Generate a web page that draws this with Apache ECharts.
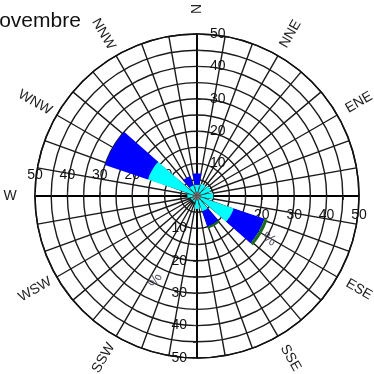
<!DOCTYPE html>
<html><head><meta charset="utf-8">
<script src="https://cdn.jsdelivr.net/npm/echarts@6/dist/echarts.min.js"></script>
<style>html,body{margin:0;padding:0;background:#fff}#c{width:374px;height:374px}</style>
</head><body><div id="c"></div>
<script>
// Directions (12 sectors, 30° apart, clockwise from north)
const directions = ['N','NNE','ENE','E','ESE','SSE','S','SSW','WSW','W','WNW','NNW'];
const bearings   = [0,30,60,90,120,150,180,210,240,270,300,330];
// Stacked frequency classes (%) per direction, inner to outer
const greyVals  = [1.3,1.3,1.3,1.3,1.3,1.3,1.3,1.5,1.5,1.3,1.3,1.3];
const cyanVals  = [2.2,2.7,3.2,3.7,10.7,3.7,2.7,0.5,0.5,1.7,14.7,2.2];
const blueVals  = [3.5,0,0,0,10.0,5.0,0,0,0,0,14.0,3.0];
const greenVals = [0,0,0,0,1.0,0.7,0,0,0,0,0,0];
const radiusMax = 50;
const ringStep = 5;
const labelStep = 10;

const chart = echarts.init(document.getElementById('c'));
const C = [197,196], R = 162;
const font = 'Liberation Sans, Arial, sans-serif';

const polars = [0,1,2,3,4,5].map(()=>({center:C,radius:R}));
const angleAxes = [], radiusAxes = [];
// 0: grid
angleAxes.push({polarIndex:0,type:'value',min:0,max:360,interval:10,startAngle:90,clockwise:true,z:1,
  axisLine:{show:true,lineStyle:{color:'#111',width:1.5}},axisTick:{show:false},axisLabel:{show:false},
  splitLine:{show:true,lineStyle:{color:'#1a1a1a',width:1.4}}});
radiusAxes.push({polarIndex:0,type:'value',min:0,max:radiusMax,interval:ringStep,z:1,
  axisLine:{show:false},axisTick:{show:false},axisLabel:{show:false},
  splitLine:{show:true,lineStyle:{color:'#1a1a1a',width:1.4}}});
// 1..4: cross axes with labels (N, E, S, W)
const axisLabelLayout = [
  {sa:90,  align:'left',   va:'middle', margin:-13},
  {sa:0,   align:'center', va:'top',    margin:-12},
  {sa:270, align:'right',  va:'middle', margin:-10},
  {sa:180, align:'center', va:'bottom', margin:-14}
];
axisLabelLayout.forEach((L,i)=>{
  angleAxes.push({polarIndex:i+1,type:'value',min:0,max:360,startAngle:L.sa,clockwise:true,show:true,z:1,
    axisLine:{show:false},axisTick:{show:false},axisLabel:{show:false},splitLine:{show:false}});
  radiusAxes.push({polarIndex:i+1,type:'value',min:0,max:radiusMax,interval:ringStep,z:1,
    axisLine:{show:true,lineStyle:{color:'#000',width:1.8}},
    axisTick:{show:true,length:-4,lineStyle:{color:'#333',width:1}},
    axisLabel:{show:true,fontFamily:font,fontSize:14,color:'#111',margin:L.margin,
      align:L.align,verticalAlign:L.va,
      formatter:v=>(v>0 && v%labelStep===0)?String(v):''},
    splitLine:{show:false}});
});
// 5: bars
angleAxes.push({polarIndex:5,type:'category',data:directions,startAngle:105,clockwise:true,
  axisLine:{show:false},axisTick:{show:false},axisLabel:{show:false},splitLine:{show:false}});
radiusAxes.push({polarIndex:5,type:'value',min:0,max:radiusMax,show:false});

function barSeries(name,data,color){
  return {type:'bar',coordinateSystem:'polar',polarIndex:5,stack:'w',name,data,
    barCategoryGap:'24%',itemStyle:{color},silent:true,z:5};
}
const graphics = [];
bearings.forEach((b,i)=>{
  const r = 187;
  const rad = b*Math.PI/180;
  const x = C[0] + r*Math.sin(rad), y = C[1] - r*Math.cos(rad);
  const rot = (b<=180 ? 90-b : 270-b)*Math.PI/180;
  graphics.push({type:'text',x,y,rotation:rot,z:10,
    style:{text:directions[i],font:'14px '+font,fill:'#222',align:'center',verticalAlign:'middle'}});
});
// rotated unit marks
[[121,26],[206,29]].forEach(([b,v])=>{
  const r = v*R/radiusMax, rad=b*Math.PI/180;
  graphics.push({type:'text',x:C[0]+r*Math.sin(rad),y:C[1]-r*Math.cos(rad),rotation:(b<=180?90-b:270-b)*Math.PI/180,z:10,
    style:{text:'%',font:'15px '+font,fill:'#556',align:'center',verticalAlign:'middle'}});
});

chart.setOption({
  animation:false,
  title:{text:'Novembre',left:-16,top:11,padding:0,textStyle:{fontFamily:font,fontSize:21,fontWeight:'normal',color:'#111'}},
  polar:polars,
  angleAxis:angleAxes,
  radiusAxis:radiusAxes,
  graphic:graphics,
  series:[
    barSeries('calm',greyVals,'#8a8a8a'),
    barSeries('c1',cyanVals,'#00ffff'),
    barSeries('c2',blueVals,'#0000ff'),
    barSeries('c3',greenVals,'#1c6b1c')
  ]
});
</script></body></html>
